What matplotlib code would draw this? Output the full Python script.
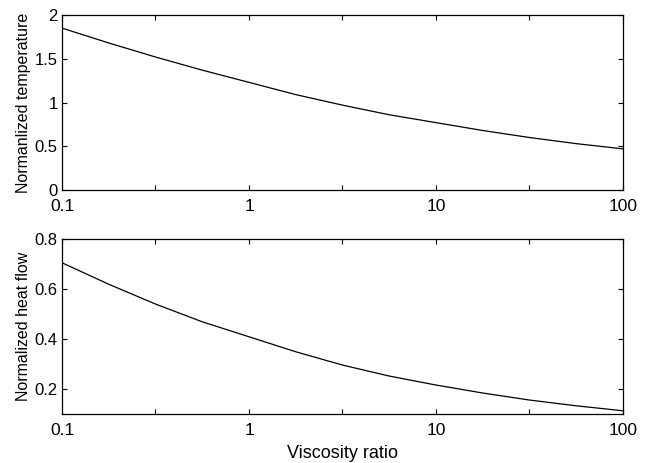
import matplotlib
matplotlib.use("Agg")
import matplotlib.pyplot as plt
import numpy as np

plt.rcParams['font.family'] = ['Liberation Sans', 'DejaVu Sans']

# viscosity ratio samples (quarter decades)
visc = [0.1, 0.178, 0.316, 0.562, 1.0, 1.78, 3.16, 5.62, 10.0, 17.8, 31.6, 56.2, 100.0]
temp = [1.85, 1.68, 1.52, 1.37, 1.23, 1.09, 0.97, 0.86, 0.77, 0.68, 0.60, 0.53, 0.47]
heat = [0.706, 0.62, 0.541, 0.47, 0.41, 0.35, 0.297, 0.253, 0.217, 0.185, 0.157, 0.134, 0.114]

xticks = [0.1, 0.316, 1, 3.16, 10, 31.6, 100]
xlabels = ['0.1', '', '1', '', '10', '', '100']

fig = plt.figure(figsize=(6.69, 4.63), dpi=100)
ax1 = fig.add_axes([0.0927, 0.5896, 0.8386, 0.378])
ax2 = fig.add_axes([0.0927, 0.1052, 0.8386, 0.378])


def style(ax):
    ax.set_xscale('log')
    ax.set_xlim(0.1, 100)
    ax.set_xticks(xticks)
    ax.set_xticklabels(xlabels)
    ax.minorticks_off()
    ax.tick_params(which='both', direction='in', top=True, right=True,
                   length=3.6, width=0.8)
    ax.tick_params(axis='x', labelsize=12.6, pad=6.5)
    ax.tick_params(axis='y', labelsize=12, pad=3)
    for s in ax.spines.values():
        s.set_linewidth(0.9)


ax1.plot(visc, temp, color='black', lw=0.9)
style(ax1)
ax1.set_ylim(0, 2)
ax1.set_yticks([0, 0.5, 1, 1.5, 2])
ax1.set_yticklabels(['0', '0.5', '1', '1.5', '2'])
ax1.set_ylabel('Normanlized temperature', fontsize=11.5, labelpad=3)

ax2.plot(visc, heat, color='black', lw=0.9)
style(ax2)
ax2.set_ylim(0.1, 0.8)
ax2.set_yticks([0.2, 0.4, 0.6, 0.8])
ax2.set_yticklabels(['0.2', '0.4', '0.6', '0.8'])
ax2.set_ylabel('Normalized heat flow', fontsize=11.5, labelpad=3)
ax2.set_xlabel('Viscosity ratio', fontsize=13, labelpad=4.5)

fig.savefig('out.png', dpi=100)
